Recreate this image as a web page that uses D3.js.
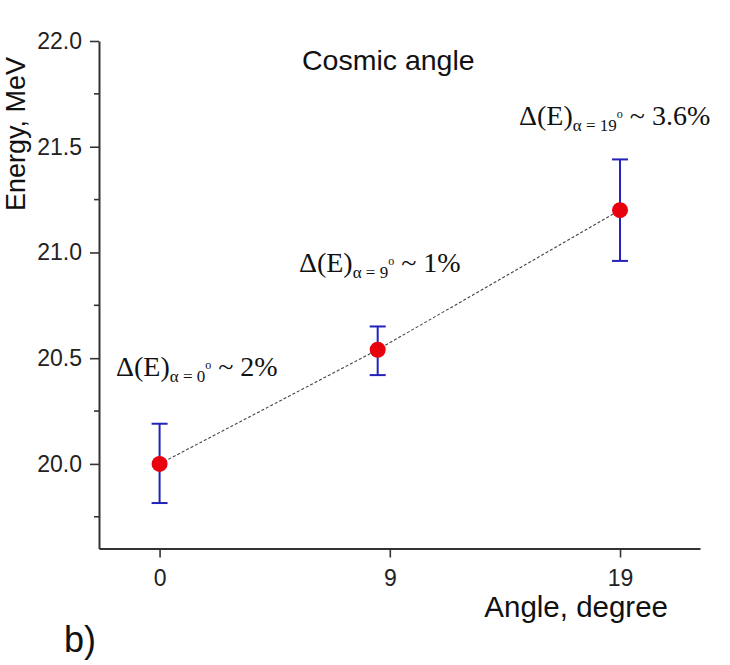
<!DOCTYPE html>
<html>
<head>
<meta charset="utf-8">
<script src="https://cdn.jsdelivr.net/npm/d3@7"></script>
<style>
  body { margin: 0; background: #fff; }
  svg { display: block; }
</style>
</head>
<body>
<div id="chart"></div>
<script>
// values
const angles = [0, 9, 19];
const energies = [20.0, 20.54, 21.2];
const errLow = [19.815, 20.42, 20.96];
const errHigh = [20.19, 20.65, 21.44];
const xTickPos = [0, 9.5, 19];
const xTickLabels = ["0", "9", "19"];
const yMajor = [20.0, 20.5, 21.0, 21.5, 22.0];
const yMinor = [19.75, 20.25, 20.75, 21.25, 21.75];
const annSub = ["0", "9", "19"];
const annPct = ["2%", "1%", "3.6%"];

const W = 730, H = 665;
const svg = d3.select("#chart").append("svg")
    .attr("width", W)
    .attr("height", H);

const x = d3.scaleLinear().domain([-2.5, 22.3]).range([99, 700]);
const y = d3.scaleLinear().domain([19.6, 22.0]).range([548.5, 41]);

const axisColor = "#333";
const sans = "'Liberation Sans', Arial, sans-serif";
const serif = "'Liberation Serif', 'Times New Roman', serif";

// axes (left + bottom only)
const gy = svg.append("g")
    .attr("transform", `translate(${x.range()[0]},0)`)
    .call(d3.axisLeft(y).tickValues(yMajor).tickFormat(d3.format(".1f"))
        .tickSize(9).tickSizeOuter(0).tickPadding(8));
gy.append("g").selectAll("line").data(yMinor).join("line")
    .attr("x1", -5).attr("x2", 0)
    .attr("y1", d => y(d)).attr("y2", d => y(d));

const gx = svg.append("g")
    .attr("transform", `translate(0,${y.range()[0]})`)
    .call(d3.axisBottom(x).tickValues(xTickPos)
        .tickFormat((d, i) => xTickLabels[i])
        .tickSize(9).tickSizeOuter(0).tickPadding(12));

[gx, gy].forEach(g => {
    g.select(".domain").attr("stroke", axisColor).attr("stroke-width", 2);
    g.selectAll("line").attr("stroke", axisColor).attr("stroke-width", 1.6);
    g.selectAll("text").attr("fill", "#222")
        .style("font-family", sans).style("font-size", "23px");
});

// dashed connecting line
const line = d3.line().x((d, i) => x(angles[i])).y(d => y(d));
svg.append("path")
    .datum(energies)
    .attr("fill", "none")
    .attr("stroke", "#444")
    .attr("stroke-width", 1.1)
    .attr("stroke-dasharray", "3,2")
    .attr("d", line);

// error bars
const eb = svg.append("g").attr("stroke", "#2222bb").attr("stroke-width", 2);
angles.forEach((a, i) => {
    eb.append("line")
        .attr("x1", x(a)).attr("x2", x(a))
        .attr("y1", y(errLow[i])).attr("y2", y(errHigh[i]));
    [errLow[i], errHigh[i]].forEach(v => {
        eb.append("line")
            .attr("x1", x(a) - 8).attr("x2", x(a) + 8)
            .attr("y1", y(v)).attr("y2", y(v));
    });
});

// points
svg.append("g").selectAll("circle").data(energies).join("circle")
    .attr("cx", (d, i) => x(angles[i]))
    .attr("cy", d => y(d))
    .attr("r", 8)
    .attr("fill", "#e8000e");

// annotations (anchor in data units)
const annPos = [[-1.8, 20.416], [5.75, 20.908], [14.83, 21.603]];
annPos.forEach((p, i) => {
    const t = svg.append("text")
        .attr("x", x(p[0])).attr("y", y(p[1]))
        .attr("fill", "#111")
        .style("font-family", serif).style("font-size", "28px");
    t.append("tspan").text("\u0394(E)");
    t.append("tspan").attr("dy", 6).style("font-size", "17px").text("\u03b1 = " + annSub[i]);
    t.append("tspan").attr("dy", -13).style("font-size", "12px").text("o");
    t.append("tspan").attr("dy", 7).text(" ~ " + annPct[i]);
});

// titles
svg.append("text")
    .attr("x", 302).attr("y", 70)
    .style("font-family", sans).style("font-size", "28.5px").attr("fill", "#111")
    .text("Cosmic angle");

svg.append("text")
    .attr("x", 668).attr("y", 617)
    .attr("text-anchor", "end")
    .style("font-family", sans).style("font-size", "29.5px").attr("fill", "#111")
    .text("Angle, degree");

svg.append("text")
    .attr("transform", "translate(25,134) rotate(-90)")
    .attr("text-anchor", "middle")
    .style("font-family", sans).style("font-size", "27px").attr("fill", "#111")
    .text("Energy, MeV");

svg.append("text")
    .attr("x", 64).attr("y", 652)
    .style("font-family", sans).style("font-size", "36px").attr("fill", "#111")
    .text("b)");
</script>
</body>
</html>
